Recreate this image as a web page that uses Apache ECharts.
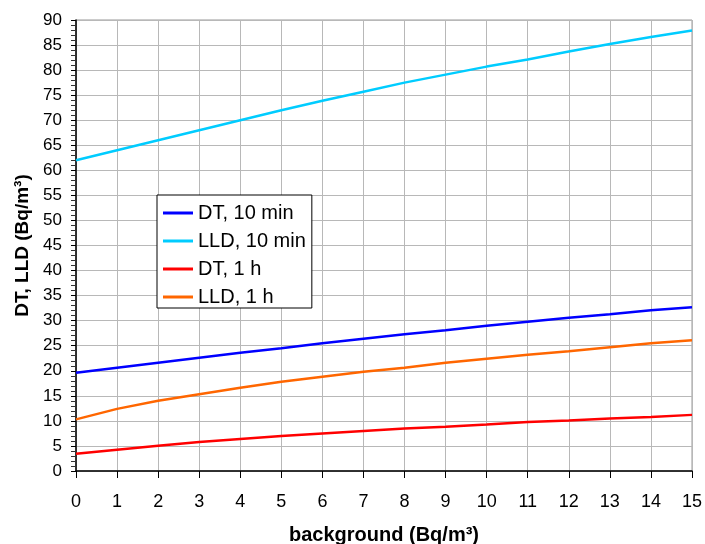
<!DOCTYPE html>
<html>
<head>
<meta charset="utf-8">
<script src="https://cdn.jsdelivr.net/npm/echarts@6/dist/echarts.min.js"></script>
<style>html,body{margin:0;padding:0;background:#fff}#c{width:705px;height:544px}</style>
</head>
<body>
<div id="c"></div>
<script>
const background = [0, 1, 2, 3, 4, 5, 6, 7, 8, 9, 10, 11, 12, 13, 14, 15];
const dt10min  = [19.6, 20.6, 21.6, 22.6, 23.6, 24.5, 25.5, 26.4, 27.3, 28.1, 29.0, 29.8, 30.6, 31.3, 32.1, 32.7];
const lld10min = [62.0, 64.0, 66.0, 68.0, 70.0, 72.0, 73.9, 75.7, 77.5, 79.1, 80.7, 82.1, 83.7, 85.2, 86.6, 87.9];
const dt1h     = [3.45, 4.25, 5.05, 5.8, 6.4, 7.0, 7.5, 8.0, 8.5, 8.85, 9.3, 9.8, 10.1, 10.5, 10.8, 11.2];
const lld1h    = [10.3, 12.4, 14.0, 15.3, 16.6, 17.8, 18.8, 19.8, 20.6, 21.6, 22.4, 23.2, 23.9, 24.7, 25.5, 26.1];
const seriesNames = ['DT, 10 min', 'LLD, 10 min', 'DT, 1 h', 'LLD, 1 h'];
const seriesColors = ['#0000ff', '#00ccff', '#ff0000', '#ff6600'];
const seriesValues = [dt10min, lld10min, dt1h, lld1h];

const chart = echarts.init(document.getElementById('c'));
const font = 'Liberation Sans, Arial, sans-serif';
chart.setOption({
  backgroundColor: '#ffffff',
  animation: false,
  grid: { left: 76, right: 13, top: 20, bottom: 73, show: true, borderColor: '#999', borderWidth: 1, outerBoundsMode: 'none', containLabel: false },
  legend: {
    orient: 'vertical', left: 157, top: 195,
    icon: 'rect', itemWidth: 30, itemHeight: 3, itemGap: 8,
    padding: [8, 6, 1, 6],
    borderColor: '#000', borderWidth: 1, backgroundColor: '#fff',
    textStyle: { fontFamily: font, fontSize: 20, color: '#000', lineHeight: 18 },
    data: seriesNames
  },
  xAxis: {
    type: 'value', min: 0, max: 15, interval: 1,
    name: 'background (Bq/m³)', nameLocation: 'middle', nameGap: 54,
    nameTextStyle: { fontFamily: font, fontSize: 20, fontWeight: 'bold', color: '#000' },
    axisLine: { show: true, onZero: false, lineStyle: { color: '#000', width: 1.5 } },
    axisTick: { show: true, length: 7, lineStyle: { color: '#000' } },
    axisLabel: { fontFamily: font, fontSize: 18, color: '#000', margin: 22 },
    splitLine: { show: true, lineStyle: { color: '#b8b8b8', width: 1 } }
  },
  yAxis: {
    type: 'value', min: 0, max: 90, interval: 5,
    name: 'DT, LLD (Bq/m³)', nameLocation: 'middle', nameGap: 42, nameRotate: 90,
    nameTextStyle: { fontFamily: font, fontSize: 19, fontWeight: 'bold', color: '#000' },
    axisLine: { show: true, lineStyle: { color: '#000', width: 1.5 } },
    axisTick: { show: true, length: 5, lineStyle: { color: '#000' } },
    minorTick: { show: true, splitNumber: 5, length: 5, lineStyle: { color: '#333' } },
    axisLabel: { fontFamily: font, fontSize: 17, color: '#000', margin: 14 },
    splitLine: { show: true, lineStyle: { color: '#b8b8b8', width: 1 } }
  },
  series: seriesNames.map((n, i) => ({
    name: n, type: 'line', showSymbol: false, symbol: 'none',
    smooth: false,
    color: seriesColors[i],
    lineStyle: { color: seriesColors[i], width: 2.5 },
    data: background.map((x, j) => [x, seriesValues[i][j]])
  }))
});
</script>
</body>
</html>
